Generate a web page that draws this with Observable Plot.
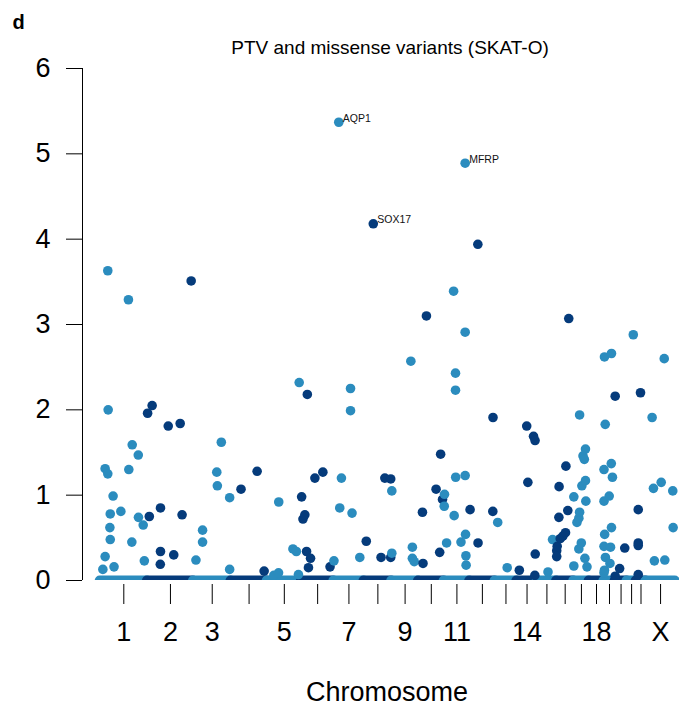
<!DOCTYPE html>
<html><head><meta charset="utf-8">
<script src="https://cdn.jsdelivr.net/npm/d3@7"></script>
<script src="https://cdn.jsdelivr.net/npm/@observablehq/plot@0.6"></script>
<style>body{margin:0;background:#fff} svg{display:block}</style>
</head><body><div id="chart"></div>
<script>
// ---- data ----
const chromosomes = ["1","2","3","4","5","6","7","8","9","10","11","12","13","14","15","16","17","18","19","20","21","22","X"];
const chromLengthsMb = [249.25,243.20,198.02,191.15,180.92,171.12,159.14,146.36,141.21,135.53,135.01,133.85,115.17,107.35,102.53,90.35,81.20,78.08,59.13,63.03,48.13,51.30,155.27];
const shownTickLabels = ["1","2","3","5","7","9","11","14","18","X"];
const yTicks = [0,1,2,3,4,5,6];

// gene-level results: chromosome, position (Mb), -log10(p)
const pointChrom = [
 "1","1","1","1","1","1","1","1","1","1","1","1","1","1","1","1","1","1","1","1",
 "2","2","2","2","2","2","2","2","2","2","2",
 "3","3","3","3","3","3","3","3",
 "4","4","4",
 "5","5","5","5","5","5","5",
 "6","6","6","6","6","6","6","6","6","6",
 "7","7","7","7","7","7","7",
 "8","8","8","8","8",
 "9","9","9","9","9","9",
 "10","10","10","10","10","10","10",
 "11","11","11","11","11","11","11","11","11","11","11","11","11","11",
 "12","12","12","12","12",
 "13","13",
 "14","14","14","14","14","14","14",
 "15","15",
 "16","16","16","16","16","16","16","16","16","16","16",
 "17","17","17","17","17","17","17","17","17","17","17","17","17","17","17","17",
 "19","19","19","19","19","19","19","19","19","19","19","19","19","19","19","19",
 "20","20","20","20",
 "21",
 "22","22","22","22","22",
 "X","X","X","X","X","X","X","X"
];
const pointPos = [
 40,149,42,169,201,26,40,151,68,53,109,51,53,26,14,73,202,227,167,233,
 231,25,1,110,173,10,69,183,69,139,68,
 147,123,126,191,48,48,13,191,
 138,53,175,
 169,61,60,35,136,154,165,
 31,1,18,8,27,48,37,71,113,151,
 88,88,0.5,40,31,96,137,
 12,110,141,90,141,
 101,0.5,0.5,109,109,119,
 42,117,93,127,21,24,112,
 50,111,60,60,2,0.5,61,111,53,13,89,113,115,116,
 43,123,2,122,44,
 14,64,
 52,88,96,58,13,97,95,
 57,81,
 64,49,13,59,12,47,33,19,3,0.5,0.5,
 31,62,49,56,62,43,0.5,64,31,27,17,40,27,59,70,0.5,
 3,40,7,39,0.5,45,28,0.5,40,4,0.5,35,8,32,0.5,3,
 0.5,51,24,0.5,
 33,
 23,11,11,11,11,
 97,33,40,81,142,144,45,100
];
const pointLogP = [
 3.63,3.29,2.00,1.59,1.47,1.31,1.25,1.30,0.99,0.78,0.81,0.62,0.48,0.28,0.13,0.16,0.74,0.65,0.45,0.23,
 3.51,2.05,1.96,1.81,1.84,0.75,0.85,0.77,0.34,0.30,0.19,
 1.62,1.27,1.11,0.97,0.59,0.45,0.24,0.13,
 1.28,1.07,0.11,
 2.32,0.92,0.09,0.06,0.37,0.34,0.07,
 2.18,0.98,0.77,0.72,0.34,0.26,0.15,1.20,1.27,0.16,
 2.25,1.99,0.23,1.20,0.85,0.79,0.27,
 0.46,1.20,1.19,0.27,0.27,
 2.57,1.05,0.32,0.39,0.26,0.22,
 3.10,1.48,1.07,0.95,0.80,0.20,0.33,
 3.39,2.91,2.43,2.23,1.01,0.87,1.21,1.23,0.76,0.44,0.45,0.54,0.29,0.18,
 3.94,1.91,0.83,0.81,0.44,
 0.68,0.15,
 1.81,1.69,1.64,1.15,0.12,0.31,0.06,
 0.10,0.48,
 3.07,1.34,1.10,0.82,0.74,0.56,0.52,0.49,0.40,0.35,0.28,
 1.94,1.54,1.46,1.42,1.17,1.11,0.98,0.93,0.80,0.73,0.68,0.44,0.37,0.26,0.16,0.17,
 2.62,2.66,1.83,1.37,1.30,1.21,0.99,0.93,0.62,0.54,0.40,0.39,0.27,0.20,0.09,0.12,
 2.16,0.38,0.14,0.05,
 2.88,
 2.20,0.83,0.44,0.41,0.07,
 2.60,1.91,1.08,1.15,1.05,0.62,0.23,0.24
];

// labelled top genes
const labelGenes = ["AQP1","SOX17","MFRP"];
const labelChrom = ["7","8","11"];
const labelPos = [26,49,111];
const labelLogP = [5.37,4.18,4.89];

// ---- build ----
const LIGHT = "#2b8cbe", DARK = "#053b7b";
let cum = 0;
const chromTable = chromosomes.map((c, i) => {
  const start = cum; cum += chromLengthsMb[i];
  return {chrom: c, start, end: cum, mid: start + chromLengthsMb[i] / 2, color: i % 2 === 0 ? LIGHT : DARK};
});
const byChrom = new Map(chromTable.map(d => [d.chrom, d]));
const points = pointChrom.map((c, i) => ({x: byChrom.get(c).start + pointPos[i], y: pointLogP[i], color: byChrom.get(c).color}));
const hits = labelGenes.map((g, i) => ({gene: g, x: byChrom.get(labelChrom[i]).start + labelPos[i], y: labelLogP[i], color: byChrom.get(labelChrom[i]).color}));
const allPoints = points.concat(hits).sort((a, b) => a.x - b.x);
const mids = chromTable.map(d => d.mid);
const tickText = new Map(chromTable.map(d => [d.mid, shownTickLabels.includes(d.chrom) ? d.chrom : ""]));

const xDomain = [-93.5, 3058.6];

const chart = Plot.plot({
  width: 679, height: 712,
  marginLeft: 82, marginRight: 0, marginTop: 68, marginBottom: 132,
  style: {fontFamily: "'Liberation Sans', Arial, Helvetica, sans-serif", background: "#fff", color: "#000"},
  x: {domain: xDomain},
  y: {domain: [0, 6]},
  color: {type: "identity"},
  marks: [
    Plot.ruleY(chromTable, {x1: "start", x2: "end", y: 0, stroke: d => d.color, strokeWidth: 10, strokeLinecap: "round", clip: true}),
    Plot.dot(allPoints, {x: "x", y: "y", fill: d => d.color, r: 4.8, clip: true}),
    Plot.text(hits, {x: "x", y: "y", text: "gene", textAnchor: "start", dx: 4, dy: -4, fontSize: 10.5, fill: "#111"}),
    Plot.axisY({ticks: yTicks, tickSize: 16, tickPadding: 16, fontSize: 27, label: null, tickFormat: d => String(d)}),
    Plot.ruleX([xDomain[0]], {y1: 0, y2: 6, stroke: "#000"}),
    Plot.axisX({ticks: mids, tickSize: 20, dy: 4, tickPadding: 17, fontSize: 27, label: null, tickFormat: d => tickText.get(d) ?? ""}),
    Plot.text(["PTV and missense variants (SKAT-O)"], {text: d => d, frameAnchor: "top", dx: 9, dy: -28, fontSize: 19}),
    Plot.text(["Chromosome"], {text: d => d, frameAnchor: "bottom", dx: 6, dy: 120, fontSize: 27}),
    Plot.text(["d"], {text: d => d, frameAnchor: "top-left", textAnchor: "start", dx: -70, dy: -54, fontSize: 20, fontWeight: "bold"})
  ]
});
document.getElementById("chart").appendChild(chart);
</script>
</body></html>
